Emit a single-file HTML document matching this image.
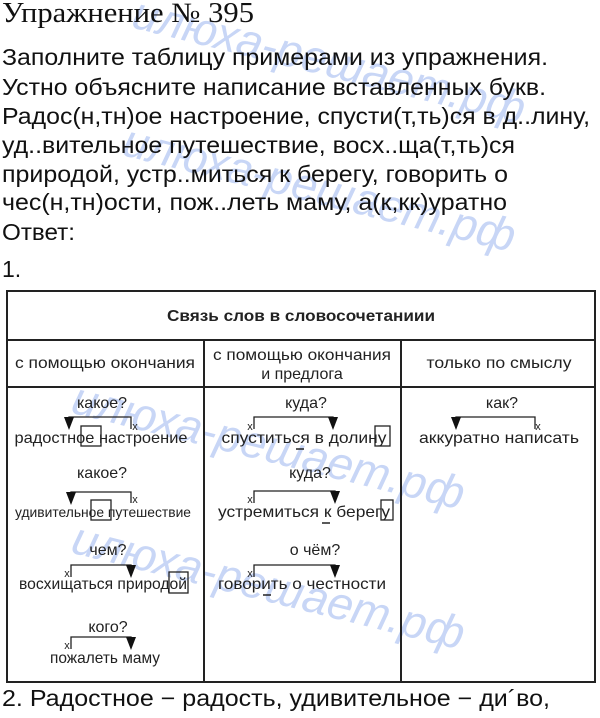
<!DOCTYPE html>
<html><head><meta charset="utf-8"><style>
html,body{margin:0;padding:0;background:#fff;width:600px;height:718px;overflow:hidden}
svg{display:block}
</style></head><body>
<svg width="600" height="718" xmlns="http://www.w3.org/2000/svg" font-family="Liberation Sans, sans-serif">
<g fill="#c8d6f6" font-size="46" font-style="italic">
<text x="120" y="70" transform="rotate(14 300 90)">илюха-решает.рф</text>
<text x="110" y="200" transform="rotate(14 300 220)">илюха-решает.рф</text>
<text x="60" y="470" transform="rotate(14 300 480)">илюха-решает.рф</text>
<text x="60" y="610" transform="rotate(14 300 620)">илюха-решает.рф</text>
</g>
<g lengthAdjust="spacingAndGlyphs">
<text x="2" y="22" font-family="Liberation Serif, serif" font-size="28" textLength="252" lengthAdjust="spacingAndGlyphs" fill="#111">Упражнение № 395</text>
<g font-size="23" fill="#111">
<text x="2" y="65" textLength="546" lengthAdjust="spacingAndGlyphs">Заполните таблицу примерами из упражнения.</text>
<text x="2" y="95" textLength="544" lengthAdjust="spacingAndGlyphs">Устно объясните написание вставленных букв.</text>
<text x="2" y="124" textLength="588" lengthAdjust="spacingAndGlyphs">Радос(н,тн)ое настроение, спусти(т,ть)ся в д..лину,</text>
<text x="2" y="153" textLength="513" lengthAdjust="spacingAndGlyphs">уд..вительное путешествие, восх..ща(т,ть)ся</text>
<text x="2" y="182" textLength="506" lengthAdjust="spacingAndGlyphs">природой, устр..миться к берегу, говорить о</text>
<text x="2" y="210" textLength="505" lengthAdjust="spacingAndGlyphs">чес(н,тн)ости, пож..леть маму, а(к,кк)уратно</text>
<text x="2" y="240" textLength="73" lengthAdjust="spacingAndGlyphs">Ответ:</text>
<text x="2" y="277">1.</text>
<text x="2" y="706" textLength="548" lengthAdjust="spacingAndGlyphs">2. Радостное − радость, удивительное − ди´во,</text>
</g>
</g>
<g stroke="#222" stroke-width="2" fill="none">
<rect x="7" y="291" width="588" height="391"/>
<line x1="7" y1="340" x2="595" y2="340"/>
<line x1="7" y1="387" x2="595" y2="387"/>
<line x1="204" y1="340" x2="204" y2="682"/>
<line x1="401" y1="340" x2="401" y2="682"/>
</g>
<g fill="#222" text-anchor="middle">
<text x="301" y="321" font-size="16" font-weight="bold" textLength="268" lengthAdjust="spacingAndGlyphs">Связь слов в словосочетаниии</text>
<text x="105" y="368" font-size="16" textLength="180" lengthAdjust="spacingAndGlyphs">с помощью окончания</text>
<text x="302" y="360" font-size="16" textLength="178" lengthAdjust="spacingAndGlyphs">с помощью окончания</text>
<text x="302" y="379" font-size="16">и предлога</text>
<text x="499" y="368" font-size="16" textLength="145" lengthAdjust="spacingAndGlyphs">только по смыслу</text>
<g font-size="16">
<text x="102" y="408">какое?</text>
<text x="306" y="408">куда?</text>
<text x="502" y="408">как?</text>
<text x="102" y="478">какое?</text>
<text x="310" y="478">куда?</text>
<text x="108" y="555">чем?</text>
<text x="315" y="555">о чём?</text>
<text x="108" y="632">кого?</text>
</g>
<g font-size="16">
<text x="101" y="443" textLength="173" lengthAdjust="spacingAndGlyphs">радостное настроение</text>
<text x="304" y="443" textLength="165" lengthAdjust="spacingAndGlyphs">спуститься в долину</text>
<text x="499" y="443" textLength="160" lengthAdjust="spacingAndGlyphs">аккуратно написать</text>
<text x="103" y="517" font-size="14" textLength="176" lengthAdjust="spacingAndGlyphs">удивительное путешествие</text>
<text x="304" y="517" textLength="172" lengthAdjust="spacingAndGlyphs">устремиться к берегу</text>
<text x="103" y="589" textLength="168" lengthAdjust="spacingAndGlyphs">восхищаться природой</text>
<text x="302" y="589" textLength="168" lengthAdjust="spacingAndGlyphs">говорить о честности</text>
<text x="105" y="663" textLength="110" lengthAdjust="spacingAndGlyphs">пожалеть маму</text>
</g>
<g font-size="11">
<text x="135" y="430">х</text><text x="250" y="430">х</text><text x="538" y="430">х</text>
<text x="135" y="503">х</text><text x="250" y="503">х</text>
<text x="67" y="577">х</text><text x="250" y="577">х</text>
<text x="67" y="649">х</text>
</g>
</g>
<g stroke="#222" stroke-width="1.3" fill="none">
<polyline points="69,427 69,417 131,417 131,429"/>
<polyline points="254,429 254,417 333,417 333,427"/>
<polyline points="456,427 456,417 535,417 535,429"/>
<polyline points="71,502 71,492 131,492 131,503"/>
<polyline points="254,503 254,491 335,491 335,500"/>
<polyline points="71,577 71,565 131,565 131,574"/>
<polyline points="254,577 254,565 335,565 335,574"/>
<polyline points="71,649 71,637 131,637 131,646"/>
<rect x="81" y="426" width="20" height="20"/>
<rect x="375" y="426" width="15" height="20"/>
<rect x="91" y="500" width="20" height="20"/>
<rect x="381" y="500" width="12" height="20"/>
<rect x="169" y="572" width="19" height="21"/>
</g>
<g stroke="#222" stroke-width="1.5">
<line x1="296" y1="449" x2="304" y2="449"/>
<line x1="322" y1="523" x2="330" y2="523"/>
<line x1="263" y1="595" x2="271" y2="595"/>
</g>
<g fill="#111">
<polygon points="64,417 74,417 69,430"/>
<polygon points="328,417 338,417 333,430"/>
<polygon points="451,417 461,417 456,430"/>
<polygon points="66,492 76,492 71,505"/>
<polygon points="330,491 340,491 335,504"/>
<polygon points="126,565 136,565 131,578"/>
<polygon points="330,565 340,565 335,578"/>
<polygon points="126,637 136,637 131,650"/>
</g>
</svg>
</body></html>
